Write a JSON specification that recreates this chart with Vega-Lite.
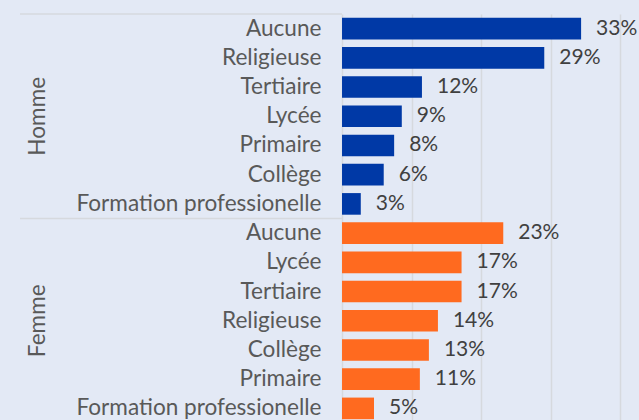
{
  "$schema": "https://vega.github.io/schema/vega-lite/v6.json",
  "autosize": {"type": "none"},
  "padding": {"left": 0, "top": 14, "right": 0, "bottom": 0},
  "width": 639,
  "height": 409,
  "background": "#E3E9F5",
  "config": {"view": {"stroke": null}, "font": "Lato"},
  "datasets": {
    "bars": [
      {"group": "Homme", "cat": "Aucune", "key": "Homme|Aucune", "value": 0.344, "label": "33%"},
      {"group": "Homme", "cat": "Religieuse", "key": "Homme|Religieuse", "value": 0.291, "label": "29%"},
      {"group": "Homme", "cat": "Tertiaire", "key": "Homme|Tertiaire", "value": 0.115, "label": "12%"},
      {"group": "Homme", "cat": "Lycée", "key": "Homme|Lycée", "value": 0.086, "label": "9%"},
      {"group": "Homme", "cat": "Primaire", "key": "Homme|Primaire", "value": 0.075, "label": "8%"},
      {"group": "Homme", "cat": "Collège", "key": "Homme|Collège", "value": 0.060, "label": "6%"},
      {"group": "Homme", "cat": "Formation professionelle", "key": "Homme|Formation professionelle", "value": 0.027, "label": "3%"},
      {"group": "Femme", "cat": "Aucune", "key": "Femme|Aucune", "value": 0.232, "label": "23%"},
      {"group": "Femme", "cat": "Lycée", "key": "Femme|Lycée", "value": 0.172, "label": "17%"},
      {"group": "Femme", "cat": "Tertiaire", "key": "Femme|Tertiaire", "value": 0.172, "label": "17%"},
      {"group": "Femme", "cat": "Religieuse", "key": "Femme|Religieuse", "value": 0.138, "label": "14%"},
      {"group": "Femme", "cat": "Collège", "key": "Femme|Collège", "value": 0.125, "label": "13%"},
      {"group": "Femme", "cat": "Primaire", "key": "Femme|Primaire", "value": 0.112, "label": "11%"},
      {"group": "Femme", "cat": "Formation professionelle", "key": "Femme|Formation professionelle", "value": 0.046, "label": "5%"}
    ],
    "groups": [
      {"group": "Homme", "first": "Homme|Aucune", "mid": "Homme|Lycée"},
      {"group": "Femme", "first": "Femme|Aucune", "mid": "Femme|Religieuse"}
    ]
  },
  "encoding": {
    "y": {
      "field": "key",
      "type": "nominal",
      "sort": null,
      "scale": {
        "domain": ["Homme|Aucune", "Homme|Religieuse", "Homme|Tertiaire", "Homme|Lycée", "Homme|Primaire", "Homme|Collège", "Homme|Formation professionelle", "Femme|Aucune", "Femme|Lycée", "Femme|Tertiaire", "Femme|Religieuse", "Femme|Collège", "Femme|Primaire", "Femme|Formation professionelle"],
        "paddingInner": 0,
        "paddingOuter": 0
      },
      "axis": {
        "title": null,
        "orient": "left",
        "offset": -342,
        "ticks": false,
        "labelExpr": "split(datum.value, '|')[1]",
        "labelPadding": 21,
        "labelLimit": 400,
        "labelFont": "Lato",
        "labelFontSize": 22.6,
        "labelColor": "#595959",
        "domainColor": "#D6D9DE",
        "domainWidth": 1.5
      }
    }
  },
  "layer": [
    {
      "data": {"name": "bars"},
      "mark": {"type": "bar", "height": {"band": 0.74}},
      "encoding": {
        "x": {
          "field": "value",
          "type": "quantitative",
          "scale": {"domain": [-0.4921, 0.4273], "nice": false, "zero": false},
          "axis": {
            "values": [0.1, 0.2, 0.3, 0.4],
            "grid": true,
            "gridColor": "#D6D9DE",
            "gridWidth": 1.5,
            "labels": false,
            "ticks": false,
            "domain": false,
            "title": null
          }
        },
        "color": {
          "field": "group",
          "type": "nominal",
          "scale": {"domain": ["Homme", "Femme"], "range": ["#0039A6", "#FF6A1F"]},
          "legend": null
        }
      }
    },
    {
      "data": {"name": "bars"},
      "mark": {"type": "text", "align": "left", "baseline": "middle", "dx": 15, "font": "Lato", "fontSize": 21, "color": "#404040"},
      "encoding": {
        "x": {"field": "value", "type": "quantitative"},
        "text": {"field": "label", "type": "nominal"}
      }
    },
    {
      "data": {"name": "groups"},
      "mark": {"type": "rule", "color": "#D6D9DE", "strokeWidth": 1.5},
      "encoding": {
        "y": {"field": "first", "type": "nominal", "bandPosition": 0},
        "x": {"datum": -0.4633, "type": "quantitative"},
        "x2": {"datum": 0}
      }
    },
    {
      "data": {"name": "groups"},
      "mark": {"type": "text", "angle": 270, "align": "center", "baseline": "middle", "font": "Lato", "fontSize": 22.6, "color": "#595959"},
      "encoding": {
        "y": {"field": "mid", "type": "nominal"},
        "x": {"datum": -0.4374, "type": "quantitative"},
        "text": {"field": "group", "type": "nominal"}
      }
    }
  ]
}
